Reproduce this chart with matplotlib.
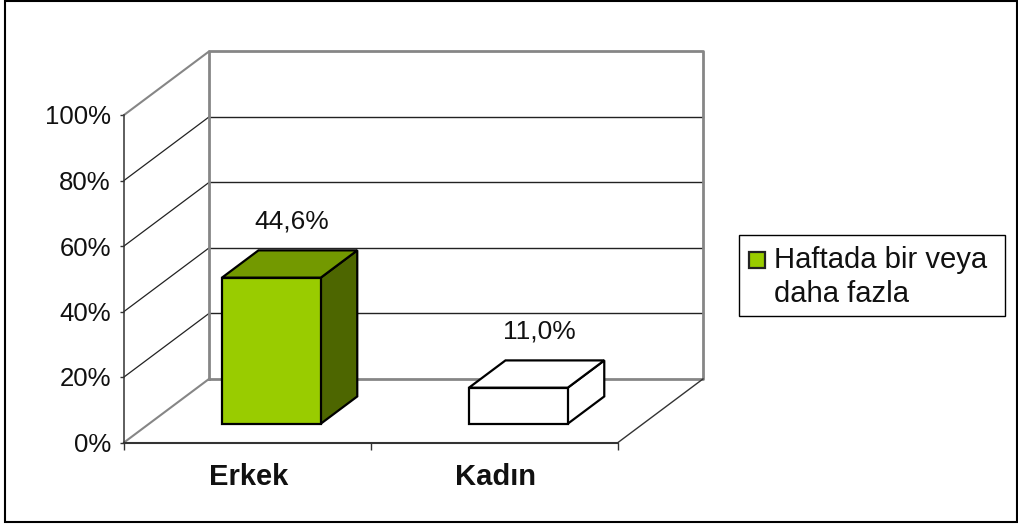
import matplotlib
matplotlib.use("Agg")
import matplotlib.pyplot as plt
from matplotlib.patches import Polygon, Rectangle

categories = ["Erkek", "Kadın"]
values = [44.6, 11.0]
value_labels = ["44,6%", "11,0%"]
y_ticks = [0, 20, 40, 60, 80, 100]
y_tick_labels = ["0%", "20%", "40%", "60%", "80%", "100%"]
legend_label = "Haftada bir veya\ndaha fazla"

W, H = 1018, 526
DEPTH_X = 0.344   # x shift of the back wall, in category units
DEPTH_Y = 19.4    # y shift of the back wall, in percent
BAR_WIDTH = 0.40
BAR_SHIFT = -0.005
BAR_FRONT = 0.295
BAR_BACK = 0.725

GREEN = "#99cc00"
GREEN_TOP = "#739900"
GREEN_SIDE = "#4d6600"
GREY = "#868686"

plt.rcParams["font.family"] = ["Liberation Sans", "DejaVu Sans"]


def proj(x, y, d):
    return (x + d * DEPTH_X, y + d * DEPTH_Y)


def draw_box(ax, center, value, front, top, side):
    x0 = center + BAR_SHIFT - BAR_WIDTH / 2
    x1 = center + BAR_SHIFT + BAR_WIDTH / 2
    kw = dict(edgecolor="black", linewidth=1.6, joinstyle="miter", clip_on=False, zorder=5)
    ax.add_patch(Polygon([proj(x1, 0, BAR_FRONT), proj(x1, 0, BAR_BACK),
                          proj(x1, value, BAR_BACK), proj(x1, value, BAR_FRONT)],
                         facecolor=side, **kw))
    ax.add_patch(Polygon([proj(x0, value, BAR_FRONT), proj(x1, value, BAR_FRONT),
                          proj(x1, value, BAR_BACK), proj(x0, value, BAR_BACK)],
                         facecolor=top, **kw))
    ax.add_patch(Polygon([proj(x0, 0, BAR_FRONT), proj(x1, 0, BAR_FRONT),
                          proj(x1, value, BAR_FRONT), proj(x0, value, BAR_FRONT)],
                         facecolor=front, **kw))


fig = plt.figure(figsize=(W / 100, H / 100), dpi=100)

# outer chart border
fig.add_artist(Rectangle((5 / W, 4 / H), 1012 / W, 521 / H, transform=fig.transFigure,
                         facecolor="white", edgecolor="black", linewidth=1.5, zorder=-5))

# axes is the front plane of the 3d box
ax = fig.add_axes([124 / W, (H - 442.5) / H, 494 / W, 327.5 / H])
ax.set_xlim(0, len(categories))
ax.set_ylim(0, 100)
ax.patch.set_visible(False)
for name, spine in ax.spines.items():
    spine.set_visible(False)

xmax = len(categories)

# gridlines on the back wall and side wall
for t in y_ticks[1:-1]:
    ax.plot(*zip(proj(0, t, 1), proj(xmax, t, 1)), color="#222222", lw=1, clip_on=False, zorder=1)
    ax.plot(*zip(proj(0, t, 0), proj(0, t, 1)), color="#222222", lw=0.9, clip_on=False, zorder=1)

# wall outlines
ax.plot(*zip(proj(0, 0, 1), proj(0, 100, 1), proj(xmax, 100, 1), proj(xmax, 0, 1), proj(0, 0, 1)),
        color=GREY, lw=2, clip_on=False, zorder=2)
ax.plot(*zip(proj(0, 0, 0), proj(0, 0, 1)), color=GREY, lw=1.5, clip_on=False, zorder=2)
ax.plot(*zip(proj(0, 100, 0), proj(0, 100, 1)), color=GREY, lw=1.5, clip_on=False, zorder=2)
ax.plot(*zip(proj(xmax, 0, 0), proj(xmax, 0, 1)), color="#333333", lw=1, clip_on=False, zorder=2)

# front axis lines
ax.plot([0, 0], [0, 100], color="#333333", lw=1.1, clip_on=False, zorder=3)
ax.plot([0, xmax], [0, 0], color="#333333", lw=1.5, clip_on=False, zorder=3)

ax.set_xticks(range(xmax + 1))
ax.set_xticklabels([])
ax.set_yticks(y_ticks)
ax.set_yticklabels(y_tick_labels, fontsize=18.5, color="#111111")
ax.tick_params(axis="y", length=3, width=1, color="#333333", pad=6.5)
ax.tick_params(axis="x", length=5, width=1, color="#333333")

# category labels
for i, cat in enumerate(categories):
    ax.annotate(cat, (i + 0.5, 0), xytext=(1, -15), textcoords="offset points",
                ha="center", va="top", fontsize=21, fontweight="bold", color="#111111",
                annotation_clip=False)

# boxes
draw_box(ax, 0.5, values[0], GREEN, GREEN_TOP, GREEN_SIDE)
draw_box(ax, 1.5, values[1], "white", "white", "white")

# value labels
for i, (v, lab) in enumerate(zip(values, value_labels)):
    px, py = proj(i + 0.5, v, 0.5)
    ax.annotate(lab, (px, py), xytext=(1.5, 22.5), textcoords="offset points",
                ha="center", va="bottom", fontsize=19, color="#111111", annotation_clip=False, zorder=6)

# legend box
fig.add_artist(Rectangle((738.5 / W, (H - 315.5) / H), 266 / W, 81 / H, transform=fig.transFigure,
                         facecolor="white", edgecolor="black", linewidth=1))
fig.add_artist(Rectangle((749 / W, (H - 268) / H), 16 / W, 16 / H, transform=fig.transFigure,
                         facecolor=GREEN, edgecolor="#222222", linewidth=1.6))
fig.text(774 / W, (H - 246.5) / H, legend_label, transform=fig.transFigure, fontsize=21.1,
         color="#111111", ha="left", va="top", linespacing=1.24)

fig.savefig("out.png", dpi=100)
